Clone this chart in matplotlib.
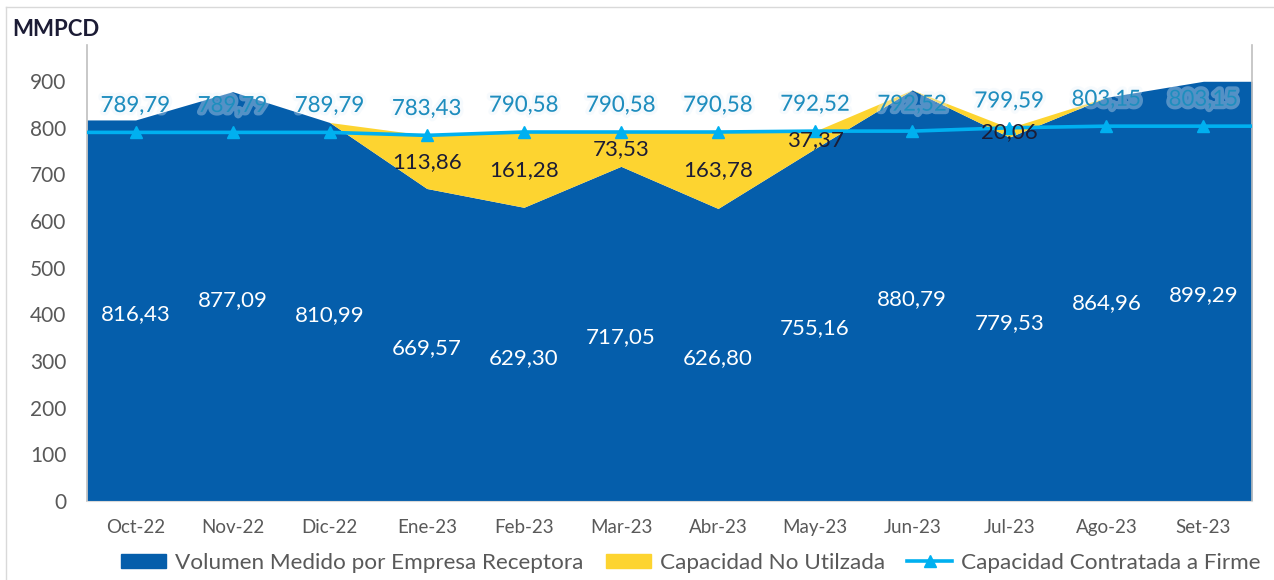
import numpy as np
import matplotlib.pyplot as plt
import matplotlib.patheffects as pe
from matplotlib.patches import Patch
from matplotlib.lines import Line2D

plt.rcParams['font.family'] = ['Lato', 'DejaVu Sans']

# Datos (MMPCD)
meses = ['Oct-22', 'Nov-22', 'Dic-22', 'Ene-23', 'Feb-23', 'Mar-23',
         'Abr-23', 'May-23', 'Jun-23', 'Jul-23', 'Ago-23', 'Set-23']
volumen = [816.43, 877.09, 810.99, 669.57, 629.30, 717.05,
           626.80, 755.16, 880.79, 779.53, 864.96, 899.29]
no_utilizada = [0, 0, 0, 113.86, 161.28, 73.53,
                163.78, 37.37, 0, 20.06, 0, 0]
contratada = [789.79, 789.79, 789.79, 783.43, 790.58, 790.58,
              790.58, 792.52, 792.52, 799.59, 803.15, 803.15]

AZUL = '#055EAB'
AMARILLO = '#FDD430'
CELESTE = '#00B0F0'
GRIS = '#595959'

n = len(meses)
x = np.arange(n)
vol = np.array(volumen)
nu = np.array(no_utilizada)
cap = np.array(contratada)

# el area y la linea llegan hasta los bordes del grafico
x_ext = np.r_[-0.5, x, n - 0.5]
vol_ext = np.r_[vol[0], vol, vol[-1]]
nu_ext = np.r_[nu[0], nu, nu[-1]]
cap_ext = np.r_[cap[0], cap, cap[-1]]

fig = plt.figure(figsize=(12.74, 5.8), dpi=100)
ax = fig.add_axes([0.0683, 0.1362, 0.9144, 0.7862])

ax.fill_between(x_ext, 0, vol_ext, color=AZUL, linewidth=0, zorder=2)
ax.fill_between(x_ext, vol_ext, vol_ext + nu_ext, color=AMARILLO, linewidth=0, zorder=2)
ax.plot(x_ext, cap_ext, color=CELESTE, linewidth=2.6, zorder=3)
ax.plot(x, cap, color=CELESTE, linestyle='none', marker='^', markersize=9, zorder=4)

def fmt(v):
    return f'{v:.2f}'.replace('.', ',')

glow = [pe.withStroke(linewidth=5, foreground='#E8F2FA', alpha=0.35)]
for i in range(n):
    ax.text(x[i], vol[i] / 2 - 8, fmt(vol[i]), color='white', fontsize=16,
            ha='center', va='center', zorder=5)
    ax.annotate(fmt(cap[i]), (x[i], cap[i]), xytext=(0, 19), textcoords='offset points',
                color='#1E8DBE', fontsize=16, ha='center', va='center',
                path_effects=glow, zorder=5)
    if nu[i] > 0:
        ax.text(x[i], vol[i] + nu[i] / 2, fmt(nu[i]), color='#1C1C35', fontsize=16,
                ha='center', va='center', zorder=5)

ax.set_xlim(-0.5, n - 0.5)
ax.set_ylim(0, 977)
ax.set_yticks(range(0, 901, 100))
ax.set_xticks(x)
ax.set_xticklabels(meses)
ax.tick_params(axis='both', length=0, colors=GRIS)
ax.tick_params(axis='x', pad=13, labelsize=13.5)
ax.tick_params(axis='y', pad=15, labelsize=15)

ax.spines['top'].set_visible(False)
for s in ['left', 'right']:
    ax.spines[s].set_color('#BFBFBF')
    ax.spines[s].set_linewidth(1.2)
ax.spines['bottom'].set_color('#D9D9D9')

fig.text(12 / 1274, 1 - 29 / 580, 'MMPCD', fontsize=16, fontweight='bold',
         color='#1C1C35', ha='left', va='center')

# marco del grafico
fig.add_artist(Line2D([6 / 1274, 1], [1 - 7 / 580, 1 - 7 / 580], color='#D9D9D9', linewidth=1))
fig.add_artist(Line2D([6 / 1274, 6 / 1274], [0, 1 - 7 / 580], color='#D9D9D9', linewidth=1))

handles = [Patch(color=AZUL, label='Volumen Medido por Empresa Receptora'),
           Patch(color=AMARILLO, label='Capacidad No Utilzada'),
           Line2D([0], [0], color=CELESTE, linewidth=2.6, marker='^', markersize=9,
                  label='Capacidad Contratada a Firme')]
fig.legend(handles=handles, loc='center', bbox_to_anchor=(691 / 1274, 1 - 563 / 580),
           ncol=3, frameon=False, fontsize=16.2, handlelength=2.0, handleheight=0.6,
           handletextpad=0.4, columnspacing=1.0, labelcolor=GRIS)

fig.savefig('out.png', dpi=100)
